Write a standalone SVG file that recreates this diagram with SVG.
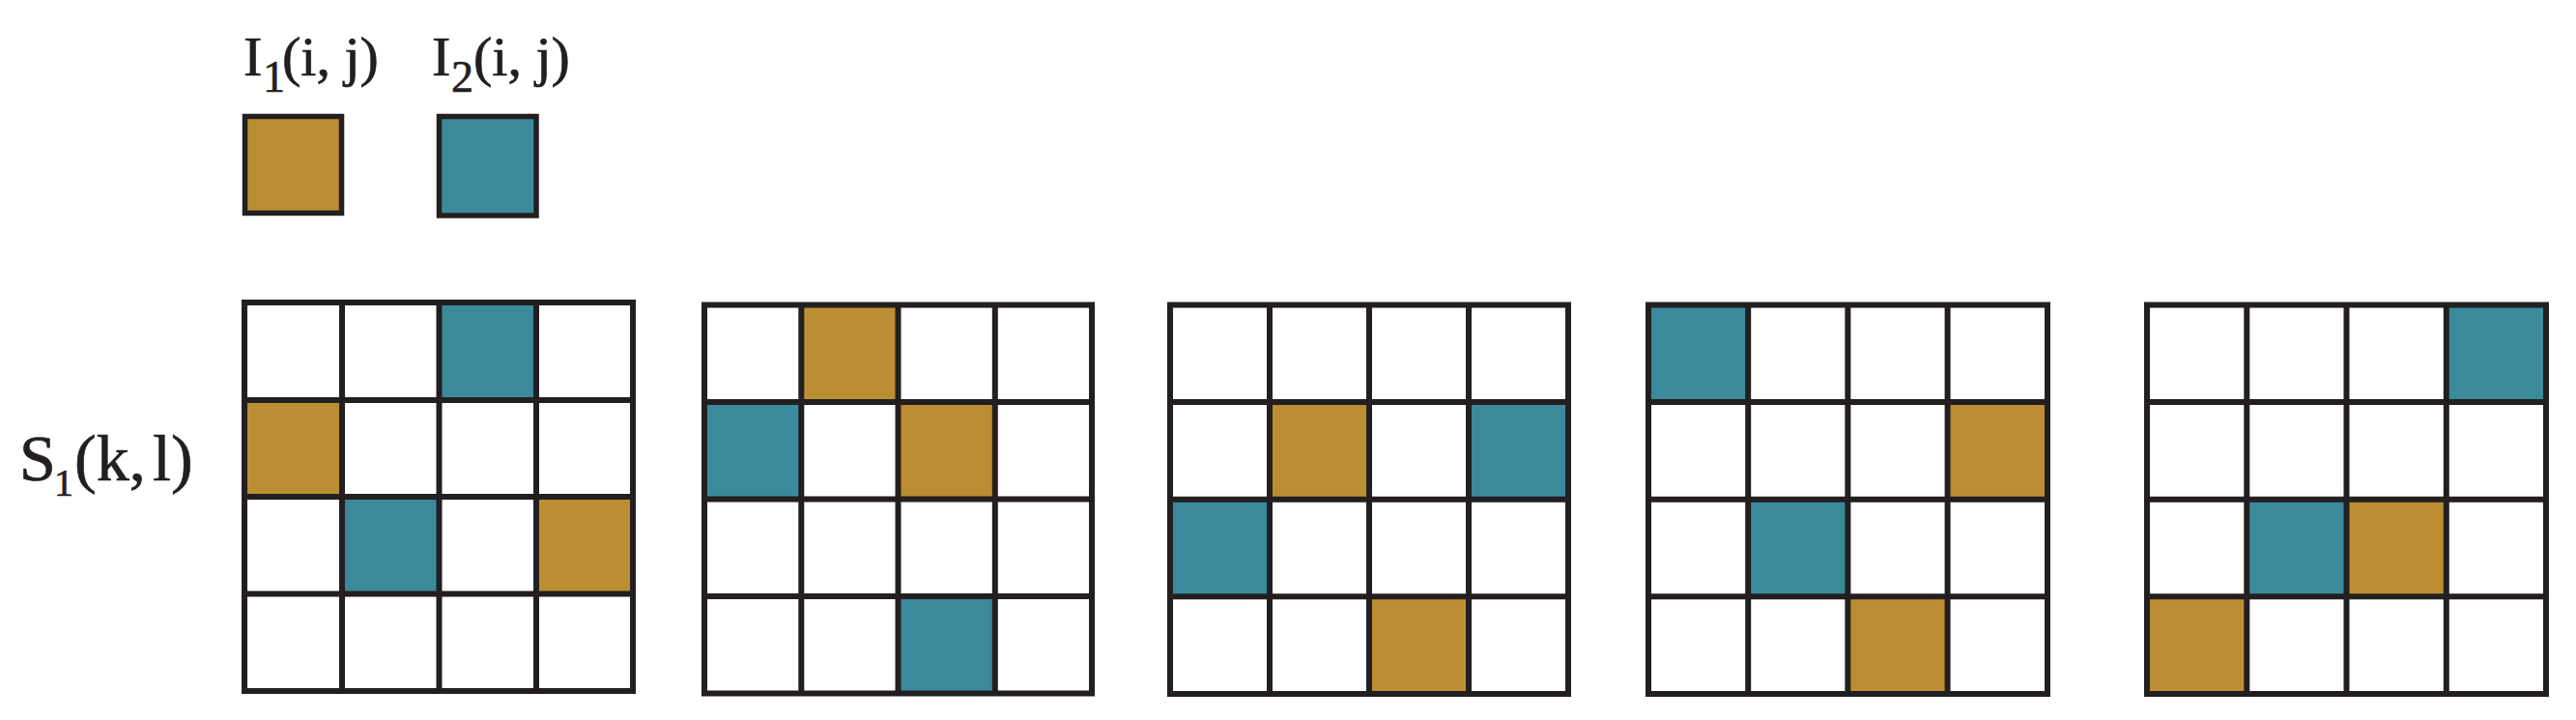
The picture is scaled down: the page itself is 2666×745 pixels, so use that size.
<svg xmlns="http://www.w3.org/2000/svg" width="2666" height="745" viewBox="0 0 2666 745">
<style>
.bg{fill:#ffffff}
.gold{fill:#bb8e33}
.teal{fill:#3a8a9c}
.grid{fill:none;stroke:#231f20;stroke-width:6;stroke-linecap:square;stroke-linejoin:miter}
.leg{stroke:#231f20;stroke-width:5.5;stroke-linejoin:miter}
.lbl{font-family:"Liberation Serif","Times New Roman",serif;fill:#231f20;stroke:#231f20;stroke-width:0.7}
</style>
<rect class="bg" x="0" y="0" width="2666" height="745"/>
<g id="legend-I1">
<text class="lbl" font-size="58" y="78"><tspan x="252">I</tspan><tspan x="272" y="95" font-size="46">1</tspan><tspan x="292" y="78">(i, j)</tspan></text>
<rect class="leg gold" x="253.5" y="120.5" width="100" height="100"/>
</g>
<g id="legend-I2">
<text class="lbl" font-size="58" y="78"><tspan x="447">I</tspan><tspan x="467" y="95" font-size="46">2</tspan><tspan x="490" y="78">(i, j)</tspan></text>
<rect class="leg teal" x="454.5" y="120.5" width="100.5" height="102.5"/>
</g>
<g id="label-S1">
<text class="lbl" font-size="68" y="497"><tspan x="20">S</tspan><tspan x="56" y="513" font-size="40">1</tspan><tspan x="77" y="497">(k,</tspan><tspan x="158">l)</tspan></text>
</g>
<g id="grid1">
<rect class="teal" x="454.5" y="313" width="100.5" height="101"/>
<rect class="gold" x="253" y="414" width="101" height="100"/>
<rect class="teal" x="354" y="514" width="100.5" height="100.5"/>
<rect class="gold" x="555" y="514" width="100" height="100.5"/>
<path class="grid" d="M253 313H655V715H253Z M354 313V715 M454.5 313V715 M555 313V715 M253 414H655 M253 514H655 M253 614.5H655"/>
</g>
<g id="grid2">
<rect class="gold" x="829.3" y="315.5" width="100.2" height="100.5"/>
<rect class="teal" x="729" y="416" width="100.3" height="100.5"/>
<rect class="gold" x="929.5" y="416" width="100.3" height="100.5"/>
<rect class="teal" x="929.5" y="617" width="100.3" height="100.5"/>
<path class="grid" d="M729 315.5H1130V717.5H729Z M829.3 315.5V717.5 M929.5 315.5V717.5 M1029.8 315.5V717.5 M729 416H1130 M729 516.5H1130 M729 617H1130"/>
</g>
<g id="grid3">
<rect class="gold" x="1314" y="416" width="103" height="100.7"/>
<rect class="teal" x="1520" y="416" width="103" height="100.7"/>
<rect class="teal" x="1211" y="516.7" width="103" height="100.6"/>
<rect class="gold" x="1417" y="617.3" width="103" height="100.7"/>
<path class="grid" d="M1211 315.5H1623V718H1211Z M1314 315.5V718 M1417 315.5V718 M1520 315.5V718 M1211 416H1623 M1211 516.7H1623 M1211 617.3H1623"/>
</g>
<g id="grid4">
<rect class="teal" x="1706" y="315.5" width="103.2" height="100.5"/>
<rect class="gold" x="2015.6" y="416" width="103.4" height="100.7"/>
<rect class="teal" x="1809.2" y="516.7" width="103.2" height="100.6"/>
<rect class="gold" x="1912.4" y="617.3" width="103.2" height="100.7"/>
<path class="grid" d="M1706 315.5H2119V718H1706Z M1809.2 315.5V718 M1912.4 315.5V718 M2015.6 315.5V718 M1706 416H2119 M1706 516.7H2119 M1706 617.3H2119"/>
</g>
<g id="grid5">
<rect class="teal" x="2531.8" y="315.5" width="103.2" height="100.5"/>
<rect class="teal" x="2325.3" y="516.7" width="103.2" height="100.6"/>
<rect class="gold" x="2428.5" y="516.7" width="103.3" height="100.6"/>
<rect class="gold" x="2222" y="617.3" width="103.3" height="100.7"/>
<path class="grid" d="M2222 315.5H2635V718H2222Z M2325.3 315.5V718 M2428.5 315.5V718 M2531.8 315.5V718 M2222 416H2635 M2222 516.7H2635 M2222 617.3H2635"/>
</g>
<g id="connectors"/>
</svg>
